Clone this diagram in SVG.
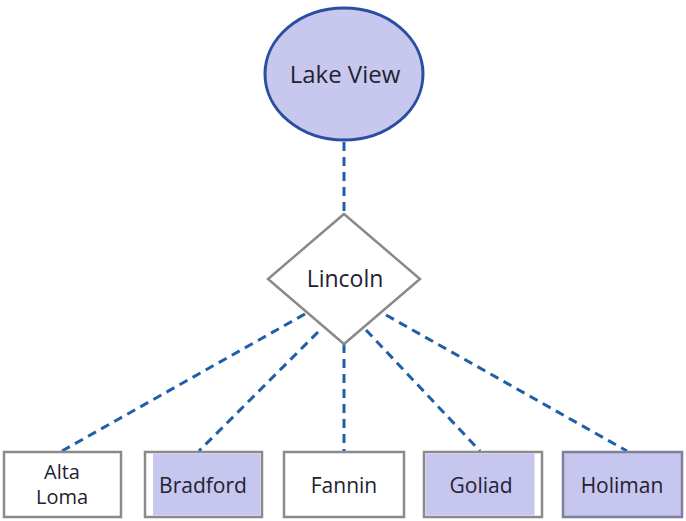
<svg xmlns="http://www.w3.org/2000/svg" width="686" height="521" viewBox="0 0 686 521">
<style>
.lbl{font-family:"Open Sans","Noto Sans",sans-serif;fill:#222233;text-anchor:middle}
.box{stroke:#8a8a8a;stroke-width:2.5;fill:#ffffff}
.fill{fill:#c6c6ee}
.conn{stroke:#1f5fa8;stroke-width:3;stroke-dasharray:9 6;fill:none}
</style>
<rect width="686" height="521" fill="#ffffff"/>
<g id="connectors">
<line class="conn" x1="344" y1="142" x2="344" y2="213"/>
<line class="conn" x1="305" y1="314" x2="62" y2="451"/>
<line class="conn" x1="318" y1="332" x2="199" y2="451"/>
<line class="conn" x1="344" y1="344" x2="344" y2="451"/>
<line class="conn" x1="366" y1="330" x2="480" y2="451"/>
<line class="conn" x1="386" y1="315" x2="627" y2="451"/>
</g>
<g id="lakeview">
<ellipse cx="344" cy="74" rx="79" ry="66" fill="#c8c8ee" stroke="#2a4fa0" stroke-width="3"/>
<text class="lbl" x="345" y="83" font-size="24" fill="#26264a">Lake View</text>
</g>
<g id="lincoln">
<polygon points="344,214 420,279 344,344 268,279" fill="#ffffff" stroke="#8a8a8a" stroke-width="2.5"/>
<text class="lbl" x="345" y="287" font-size="23">Lincoln</text>
</g>
<g id="altaloma">
<rect class="box" x="4" y="452" width="117" height="65"/>
<text class="lbl" x="62" y="479" font-size="20">Alta</text>
<text class="lbl" x="62" y="504" font-size="20">Loma</text>
</g>
<g id="bradford">
<rect class="box" x="145" y="452" width="117" height="65"/>
<rect class="fill" x="153" y="453.5" width="107.5" height="62"/>
<text class="lbl" x="203" y="493" font-size="21">Bradford</text>
</g>
<g id="fannin">
<rect class="box" x="284" y="452" width="120" height="65"/>
<text class="lbl" x="344" y="493" font-size="21">Fannin</text>
</g>
<g id="goliad">
<rect class="box" x="424" y="452" width="118" height="65"/>
<rect class="fill" x="425.5" y="453.5" width="109" height="62"/>
<text class="lbl" x="481" y="493" font-size="21">Goliad</text>
</g>
<g id="holiman">
<rect x="563" y="452" width="119" height="65" fill="#c6c6ee" stroke="#7f7fa0" stroke-width="2.5"/>
<text class="lbl" x="622" y="493" font-size="21">Holiman</text>
</g>
</svg>
